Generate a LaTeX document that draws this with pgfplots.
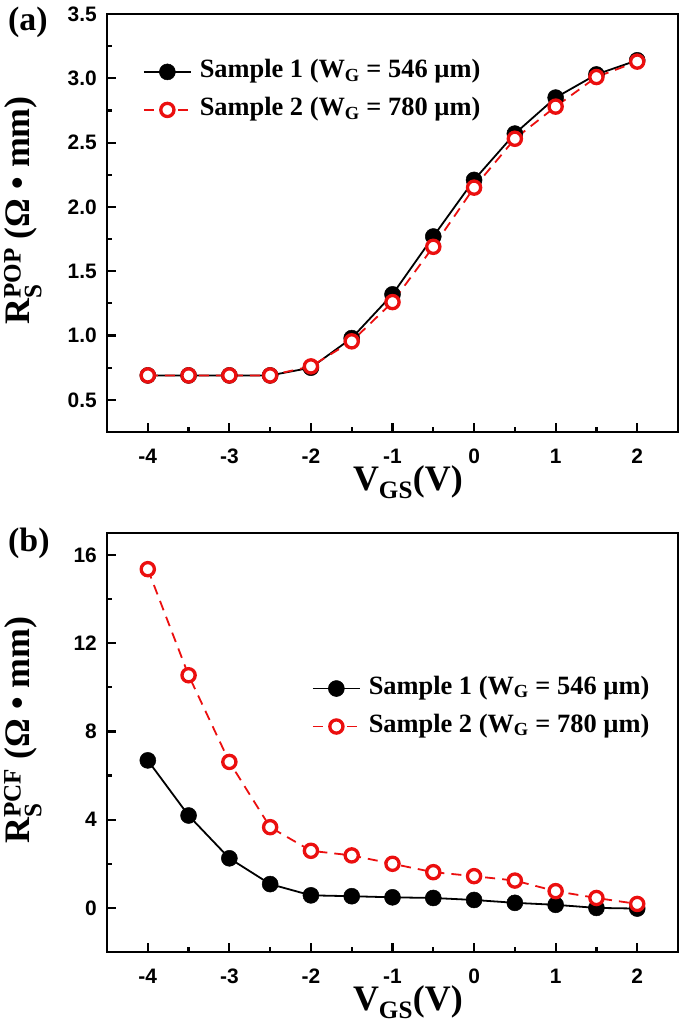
\documentclass[border=0pt]{standalone}
\usepackage{pgfplots}
\pgfplotsset{compat=1.18}
\usepackage{amsmath}
\usepackage{fontspec}
\setmainfont{Liberation Serif}
\newfontfamily\arialfont{Liberation Sans}
\definecolor{sred}{RGB}{235,15,15}

\pgfplotsset{
  panel/.style={
    scale only axis, width=571bp, height=418bp,
    xmin=-4.5, xmax=2.5, xtick={-4,...,2}, minor x tick num=1, minor y tick num=1,
    axis line style={line width=2.6bp},
    tick style={line width=2.2bp, black},
    major tick length=9bp, minor tick length=5bp,
    tick align=inside, xtick pos=bottom, ytick pos=left,
    /pgf/number format/assume math mode=true,
    tick label style={font=\arialfont\bfseries\fontsize{21}{21}\selectfont},
    xticklabel style={anchor=north, inner sep=0pt, yshift=-17bp},
    yticklabel style={anchor=east, inner sep=0pt, xshift=-10bp},
    label style={font=\bfseries\fontsize{36}{36}\selectfont, inner sep=0pt},
    xlabel={V\textsubscript{GS}(V)},
    xlabel style={at={(rel axis cs:0.527,-0.079)}, anchor=north},
    ylabel style={at={(rel axis cs:-0.114,0.53)}, anchor=south},
    legend cell align=left,
    legend style={draw=none, fill=none, inner sep=0pt, outer sep=0pt,
      font=\bfseries\fontsize{26.5}{26.5}\selectfont,
      nodes={inner sep=0pt, text height=18bp, text depth=7bp},
      /tikz/column sep=8bp, /tikz/row sep=13bp},
    legend image code/.code={\draw[##1, mark repeat=2, mark phase=2]
      plot coordinates {(0bp,0bp) (23.5bp,0bp) (47bp,0bp)};},
  },
  s1/.style={black, line width=1.8bp, mark=*, mark size=8bp,
    mark options={solid, fill=black, line width=0.5bp}},
  s2/.style={sred, line width=1.8bp, dash pattern=on 10bp off 7bp, mark=*, mark size=6.6bp,
    mark options={solid, draw=sred, fill=white, line width=3.3bp}},
}

\begin{document}
\begin{tikzpicture}
\path[use as bounding box] (0,0) rectangle (685bp,-1024bp);

\begin{axis}[panel, at={(107bp,-432bp)}, anchor=south west,
    ymin=0.25, ymax=3.5, ytick={0.5,1,...,3.5},
    yticklabel style={/pgf/number format/.cd, fixed, fixed zerofill, precision=1},
    ylabel={R$^{\text{POP}}_{\text{S}}$ (Ω • mm)},
    legend style={at={(0.063,0.816)}, anchor=west}]
\addplot[s1] coordinates {(-4,0.69)(-3.5,0.69)(-3,0.69)(-2.5,0.69)(-2,0.75)(-1.5,0.98)(-1,1.32)(-0.5,1.77)(0,2.21)(0.5,2.57)(1,2.85)(1.5,3.03)(2,3.14)};
\addlegendentry{Sample 1 (W\textsubscript{G} = 546 µm)}
\addplot[s2] coordinates {(-4,0.69)(-3.5,0.69)(-3,0.69)(-2.5,0.69)(-2,0.76)(-1.5,0.955)(-1,1.26)(-0.5,1.69)(0,2.15)(0.5,2.53)(1,2.78)(1.5,3.01)(2,3.13)};
\addlegendentry{Sample 2 (W\textsubscript{G} = 780 µm)}
\end{axis}

\begin{axis}[panel, at={(107bp,-952bp)}, anchor=south west, height=419bp,
    ymin=-2, ymax=17, ytick={0,4,...,16},
    ylabel={R$^{\text{PCF}}_{\text{S}}$ (Ω • mm)},
    legend style={at={(0.359,0.5835)}, anchor=west}]
\addplot[s1] coordinates {(-4,6.69)(-3.5,4.19)(-3,2.25)(-2.5,1.08)(-2,0.57)(-1.5,0.53)(-1,0.48)(-0.5,0.45)(0,0.36)(0.5,0.23)(1,0.14)(1.5,0.0)(2,-0.03)};
\addlegendentry{Sample 1 (W\textsubscript{G} = 546 µm)}
\addplot[s2] coordinates {(-4,15.36)(-3.5,10.55)(-3,6.62)(-2.5,3.66)(-2,2.59)(-1.5,2.38)(-1,2.0)(-0.5,1.62)(0,1.44)(0.5,1.24)(1,0.76)(1.5,0.45)(2,0.18)};
\addlegendentry{Sample 2 (W\textsubscript{G} = 780 µm)}
\end{axis}

\node[font=\bfseries\fontsize{34}{34}\selectfont, anchor=west, inner sep=0pt] at (8bp,-22bp) {(a)};
\node[font=\bfseries\fontsize{34}{34}\selectfont, anchor=west, inner sep=0pt] at (8bp,-543bp) {(b)};
\end{tikzpicture}
\end{document}
